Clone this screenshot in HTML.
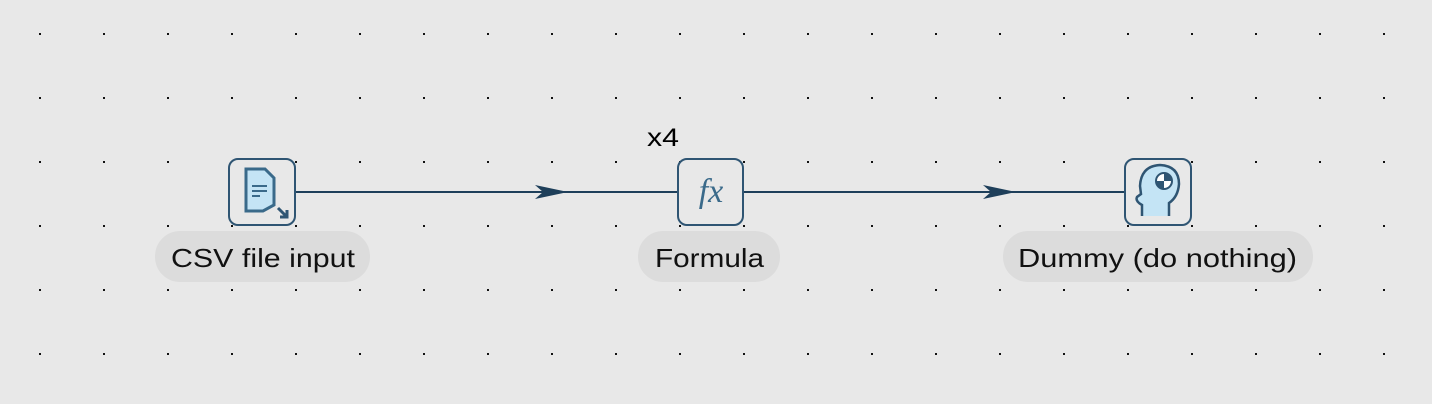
<!DOCTYPE html>
<html><head><meta charset="utf-8"><style>
html,body{margin:0;padding:0;background:#e8e8e8;}
svg{display:block;font-family:"Liberation Sans",Arial,sans-serif;}
</style></head><body>
<svg width="1432" height="404" viewBox="0 0 1432 404">
<rect width="1432" height="404" fill="#e8e8e8"/>
<g id="grid"></g>

<g>
<line x1="295" y1="192" x2="677" y2="192" stroke="#1e3f5a" stroke-width="2"/>
<path d="M535,185 L568,192 L535,199 L543,192 Z" fill="#1e3f5a"/>
</g>
<g>
<line x1="743" y1="192" x2="1125" y2="192" stroke="#1e3f5a" stroke-width="2"/>
<path d="M983,185 L1016,192 L983,199 L991,192 Z" fill="#1e3f5a"/>
</g>

<text x="647" y="146" font-size="25" textLength="32" lengthAdjust="spacingAndGlyphs" fill="#000">x4</text>

<g>
<rect x="229" y="159" width="66" height="66" rx="9" fill="#e8e8e8" stroke="#2f5573" stroke-width="2"/>
<path d="M246,169 L265,169 L274,178 L274,205 L263,211 L246,211 Z" fill="#c4e4f5" stroke="#3a6a8a" stroke-width="3"/>
<line x1="252" y1="186" x2="267" y2="186" stroke="#3a6a8a" stroke-width="2"/>
<line x1="252" y1="191" x2="267" y2="191" stroke="#3a6a8a" stroke-width="2"/>
<line x1="252" y1="196" x2="260" y2="196" stroke="#3a6a8a" stroke-width="2"/>
<path d="M278,208 L287,217 M287,210 L287,217 L280,217" stroke="#2f5573" stroke-width="3" fill="none"/>
</g>
<rect x="155" y="231" width="215" height="51" rx="25" fill="#dcdcdc"/>
<text x="171" y="267" font-size="26" textLength="184" lengthAdjust="spacingAndGlyphs" fill="#111">CSV file input</text>

<g>
<rect x="678" y="159" width="65" height="66" rx="9" fill="#e8e8e8" stroke="#2f5573" stroke-width="2"/>
<text x="711" y="202" font-size="34" font-style="italic" font-family="Liberation Serif,serif" text-anchor="middle" fill="#3a6a8a">fx</text>
</g>
<rect x="638" y="231" width="142" height="51" rx="25" fill="#dcdcdc"/>
<text x="655" y="267" font-size="26" textLength="109" lengthAdjust="spacingAndGlyphs" fill="#111">Formula</text>

<g>
<rect x="1125" y="159" width="66" height="66" rx="9" fill="#e8e8e8" stroke="#2f5573" stroke-width="2"/>
<path d="M1142,216 L1142,205 Q1135,201 1137,197 L1141,194 L1140,186 Q1141,166 1160,165 Q1179,166 1179,184 Q1178,197 1169,203 L1169,216" fill="#c4e4f5" stroke="#2f5573" stroke-width="2.5"/>
<circle cx="1164" cy="181" r="8" fill="#fff" stroke="#2f5573" stroke-width="2"/>
<path d="M1164,173 A8,8 0 0 1 1172,181 L1164,181 Z M1164,189 A8,8 0 0 1 1156,181 L1164,181 Z" fill="#2f5573"/>
</g>
<rect x="1003" y="231" width="310" height="51" rx="25" fill="#dcdcdc"/>
<text x="1018" y="267" font-size="26" textLength="279" lengthAdjust="spacingAndGlyphs" fill="#111">Dummy (do nothing)</text>
</svg>
<script>
var g=document.getElementById('grid');
for(var x=39;x<1432;x+=64){for(var y=33;y<404;y+=64){
var r=document.createElementNS('http://www.w3.org/2000/svg','rect');
r.setAttribute('x',x);r.setAttribute('y',y);r.setAttribute('width',2);r.setAttribute('height',2);r.setAttribute('fill','#111');


g.appendChild(r);}}
</script>
</body></html>
